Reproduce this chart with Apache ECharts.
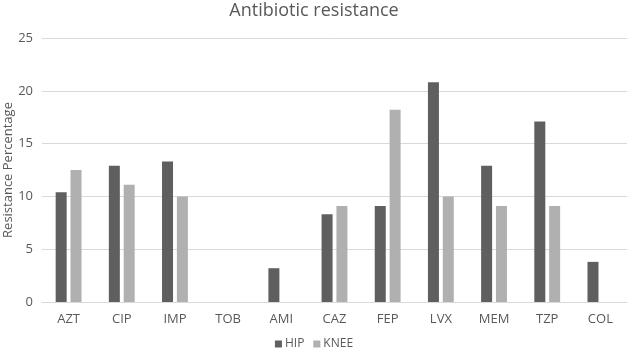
<!DOCTYPE html>
<html>
<head>
<meta charset="utf-8">
<script src="https://cdn.jsdelivr.net/npm/echarts@6/dist/echarts.min.js"></script>
<style>
  html, body { margin: 0; padding: 0; background: #fff; }
  #chart { width: 628px; height: 354px; }
</style>
</head>
<body>
<div id="chart"></div>
<script>
const categories = ['AZT', 'CIP', 'IMP', 'TOB', 'AMI', 'CAZ', 'FEP', 'LVX', 'MEM', 'TZP', 'COL']
const hip = [10.4, 12.9, 13.3, 0, 3.2, 8.3, 9.1, 20.8, 12.9, 17.1, 3.8]
const knee = [12.5, 11.1, 10.0, 0, 0, 9.1, 18.2, 10.0, 9.1, 9.1, 0]

const textColor = '#595959'
const font = 'Open Sans'

const chart = echarts.init(document.getElementById('chart'))
chart.setOption({
  animation: false,
  textStyle: { fontFamily: font },
  title: {
    text: 'Antibiotic resistance',
    left: 'center',
    top: -3,
    textStyle: { fontFamily: font, fontSize: 18, fontWeight: 'normal', color: textColor }
  },
  legend: {
    bottom: -1,
    left: 'center',
    itemWidth: 7,
    itemHeight: 7,
    itemGap: 9,
    icon: 'rect',
    textStyle: { fontFamily: font, fontSize: 12, color: textColor, padding: [0, 0, 0, -2] },
    data: ['HIP', 'KNEE']
  },
  grid: {
    left: 42,
    right: 1,
    top: 38,
    bottom: 52,
    containLabel: false,
    outerBoundsMode: 'none'
  },
  xAxis: {
    type: 'category',
    data: categories,
    axisLine: { lineStyle: { color: '#d9d9d9' } },
    axisTick: { show: false },
    axisLabel: { color: textColor, fontSize: 13, margin: 11 }
  },
  yAxis: {
    type: 'value',
    min: 0,
    max: 25,
    interval: 5,
    name: 'Resistance Percentage',
    nameLocation: 'middle',
    nameGap: 27,
    nameMoveOverlap: false,
    nameTextStyle: { color: textColor, fontSize: 13 },
    axisLine: { show: false },
    axisTick: { show: false },
    axisLabel: { color: textColor, fontSize: 13, margin: 9 },
    splitLine: { lineStyle: { color: '#d9d9d9' } }
  },
  series: [
    { name: 'HIP', type: 'bar', data: hip, barWidth: 11, barGap: '35%', itemStyle: { color: '#5f5f5f' } },
    { name: 'KNEE', type: 'bar', data: knee, barWidth: 11, itemStyle: { color: '#b0b0b0' } }
  ]
})
</script>
</body>
</html>
